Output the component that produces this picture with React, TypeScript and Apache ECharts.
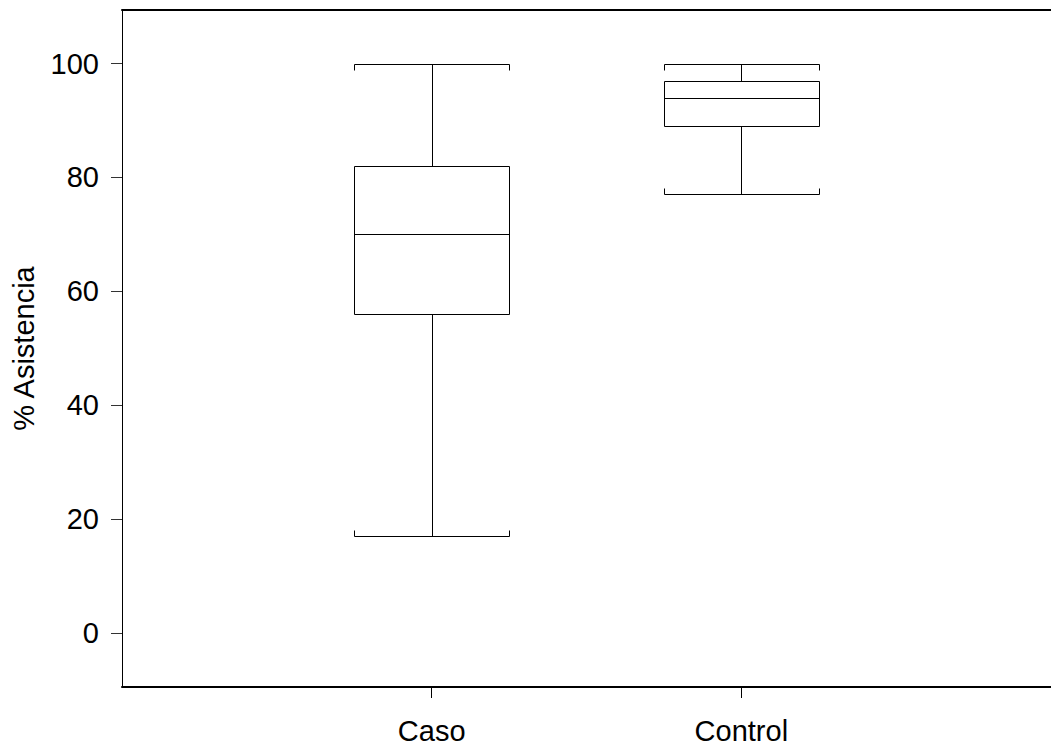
import React, { useEffect, useRef } from "react";
import * as echarts from "echarts";

const categories = ["Caso", "Control"];
const whiskerLow = [17, 77];
const q1 = [56, 89];
const median = [70, 94];
const q3 = [82, 97];
const whiskerHigh = [100, 100];
const yTicks = [0, 20, 40, 60, 80, 100];
const yAxisName = "% Asistencia";

const FONT = "'Liberation Sans', Arial, sans-serif";

export default function App() {
  const ref = useRef<HTMLDivElement>(null);
  useEffect(() => {
    if (!ref.current) return;
    const chart = echarts.init(ref.current, null, { renderer: "svg" });
    const data = categories.map((_, i) => [i + 1, whiskerLow[i], q1[i], median[i], q3[i], whiskerHigh[i]]);
    const halfW = 0.25;
    const capLen = 6;
    chart.setOption({
      animation: false,
      backgroundColor: "#ffffff",
      grid: { left: 122, top: 10, bottom: 62, right: -6 },
      xAxis: [
        {
          type: "value",
          min: 0,
          max: 3,
          splitLine: { show: false },
          axisLine: { show: true, onZero: false, lineStyle: { color: "#000", width: 2 } },
          axisTick: { show: true, length: 11, customValues: [1, 2], lineStyle: { color: "#000", width: 1 } },
          axisLabel: {
            show: true,
            customValues: [1, 2],
            formatter: (v: number) => categories[Math.round(v) - 1] ?? "",
            color: "#000",
            fontSize: 29,
            fontFamily: FONT,
            margin: 29,
          },
        },
        {
          type: "value",
          position: "top",
          min: 0,
          max: 3,
          splitLine: { show: false },
          axisLine: { show: true, onZero: false, lineStyle: { color: "#000", width: 2 } },
          axisTick: { show: false },
          axisLabel: { show: false },
        },
      ],
      yAxis: {
        type: "value",
        min: -9.5,
        max: 109.4,
        splitLine: { show: false },
        axisLine: { show: true, onZero: false, lineStyle: { color: "#000", width: 1 } },
        axisTick: { show: true, length: 11, customValues: yTicks, lineStyle: { color: "#333", width: 1 } },
        axisLabel: {
          show: true,
          customValues: yTicks,
          color: "#000",
          fontSize: 29,
          fontFamily: FONT,
          margin: 23,
        },
        name: yAxisName,
        nameLocation: "middle",
        nameGap: 84,
        nameTextStyle: { color: "#000", fontSize: 29, fontFamily: FONT },
      },
      series: [
        {
          type: "custom",
          xAxisIndex: 0,
          yAxisIndex: 0,
          data,
          renderItem: (params: any, api: any) => {
            const x = api.value(0);
            const lo = api.value(1);
            const b1 = api.value(2);
            const md = api.value(3);
            const b3 = api.value(4);
            const hi = api.value(5);
            const r = (v: number) => Math.round(v) + 0.5;
            const pL = api.coord([x - halfW, lo]);
            const pR = api.coord([x + halfW, lo]);
            const pC = api.coord([x, lo]);
            const xl = r(pL[0]);
            const xr = r(pR[0]);
            const xc = r(pC[0]);
            const yLo = r(api.coord([x, lo])[1]);
            const yQ1 = r(api.coord([x, b1])[1]);
            const yMd = r(api.coord([x, md])[1]);
            const yQ3 = r(api.coord([x, b3])[1]);
            const yHi = r(api.coord([x, hi])[1]);
            const style = { stroke: "#000", lineWidth: 1, fill: null };
            const line = (x1: number, y1: number, x2: number, y2: number) => ({
              type: "line",
              shape: { x1, y1, x2, y2 },
              style,
            });
            return {
              type: "group",
              children: [
                { type: "rect", shape: { x: xl, y: yQ3, width: xr - xl, height: yQ1 - yQ3 }, style: { stroke: "#000", lineWidth: 1, fill: "none" } },
                line(xl, yMd, xr, yMd),
                line(xc, yQ3, xc, yHi),
                line(xc, yQ1, xc, yLo),
                line(xl, yHi, xr, yHi),
                line(xl, yLo, xr, yLo),
                line(xl, yHi, xl, yHi + capLen),
                line(xr, yHi, xr, yHi + capLen),
                line(xl, yLo, xl, yLo - capLen),
                line(xr, yLo, xr, yLo - capLen),
              ],
            };
          },
        },
      ],
    });
    return () => chart.dispose();
  }, []);
  return <div ref={ref} style={{ position: "fixed", left: 0, top: 0, width: 1051, height: 749 }} />;
}
